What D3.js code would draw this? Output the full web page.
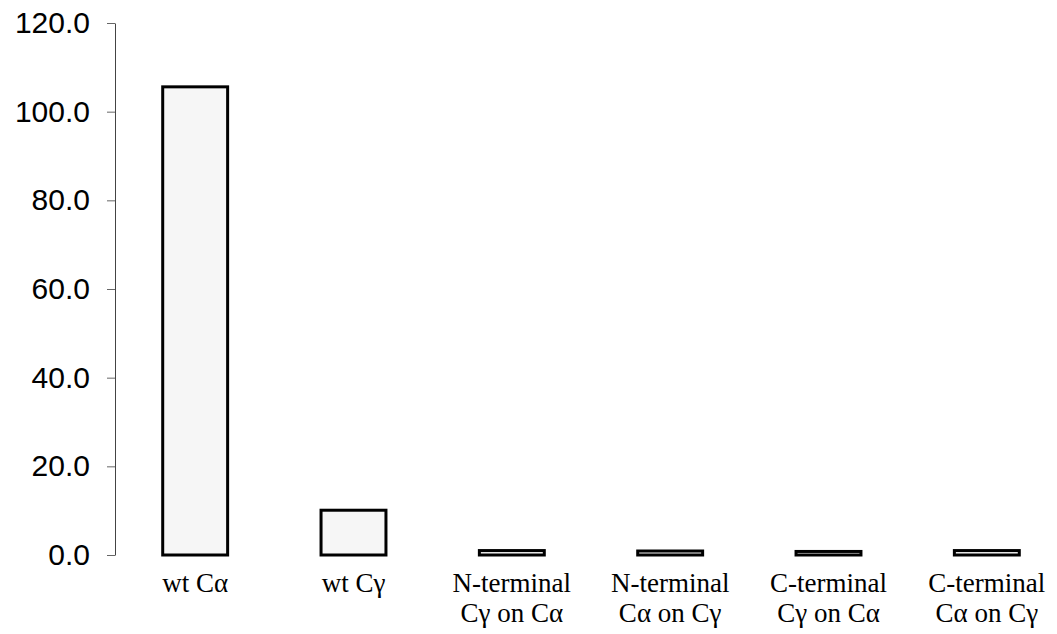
<!DOCTYPE html>
<meta charset="utf-8">
<style>
    body { margin: 0; background: #fff; }
</style>
<body>
    <script src="https://d3js.org/d3.v7.min.js"></script>
    <div id="chart"></div>
    <script>
        // data
        const categories = ["wt C\u03b1", "wt C\u03b3", "N-terminal|C\u03b3 on C\u03b1", "N-terminal|C\u03b1 on C\u03b3", "C-terminal|C\u03b3 on C\u03b1", "C-terminal|C\u03b1 on C\u03b3"];
        const values = [105.6, 10.1, 1.0, 0.9, 0.8, 1.0];
        const yTicks = [0, 20, 40, 60, 80, 100, 120];

        const width = 1057, height = 634;

        const svg = d3.select("#chart")
            .append("svg")
            .attr("width", width)
            .attr("height", height)

        // scales
        const x = d3.scaleBand()
            .domain(categories)
            .range([116, 1066])
            .paddingInner(0.59)
            .paddingOuter(0.295);

        const y = d3.scaleLinear()
            .domain([0, 120])
            .range([555, 23]);

        // Y axis
        const yAxis = svg.append("g")
            .attr("transform", "translate(115,0)")
            .call(d3.axisLeft(y).tickValues(yTicks).tickFormat(d3.format(".1f")).tickSize(8).tickPadding(17).tickSizeOuter(0));
        yAxis.select(".domain").attr("stroke", "#444").attr("stroke-width", 1);
        yAxis.selectAll(".tick line").attr("stroke", "#666").attr("stroke-width", 1);
        yAxis.selectAll("text")
            .attr("font-family", "Liberation Sans, Arial, sans-serif")
            .attr("font-size", 30)
            .attr("fill", "#000");

        // bars
        svg.selectAll(".bar")
            .data(values)
            .join("rect")
            .attr("class", "bar")
            .attr("x", (d, i) => x(categories[i]))
            .attr("y", d => y(d))
            .attr("width", x.bandwidth())
            .attr("height", d => y(0) - y(d))
            .attr("fill", "#f6f6f6")
            .attr("stroke", "#000")
            .attr("stroke-width", 3)

        // category labels (two lines where needed)
        const xAxis = svg.append("g")
            .attr("transform", "translate(0,555)")
            .call(d3.axisBottom(x).tickSize(0).tickFormat(""));
        xAxis.select(".domain").remove();
        xAxis.selectAll(".tick").each(function (d) {
            const lines = d.split("|");
            const t = d3.select(this).append("text")
                .attr("font-family", "Liberation Serif, Times New Roman, serif")
                .attr("font-size", 27)
                .attr("fill", "#000")
                .attr("text-anchor", "middle")
                .attr("y", 37);
            lines.forEach((s, k) => {
                t.append("tspan").attr("x", 0).attr("dy", k == 0 ? 0 : 30).text(s);
            });
        });
    </script>
</body>
